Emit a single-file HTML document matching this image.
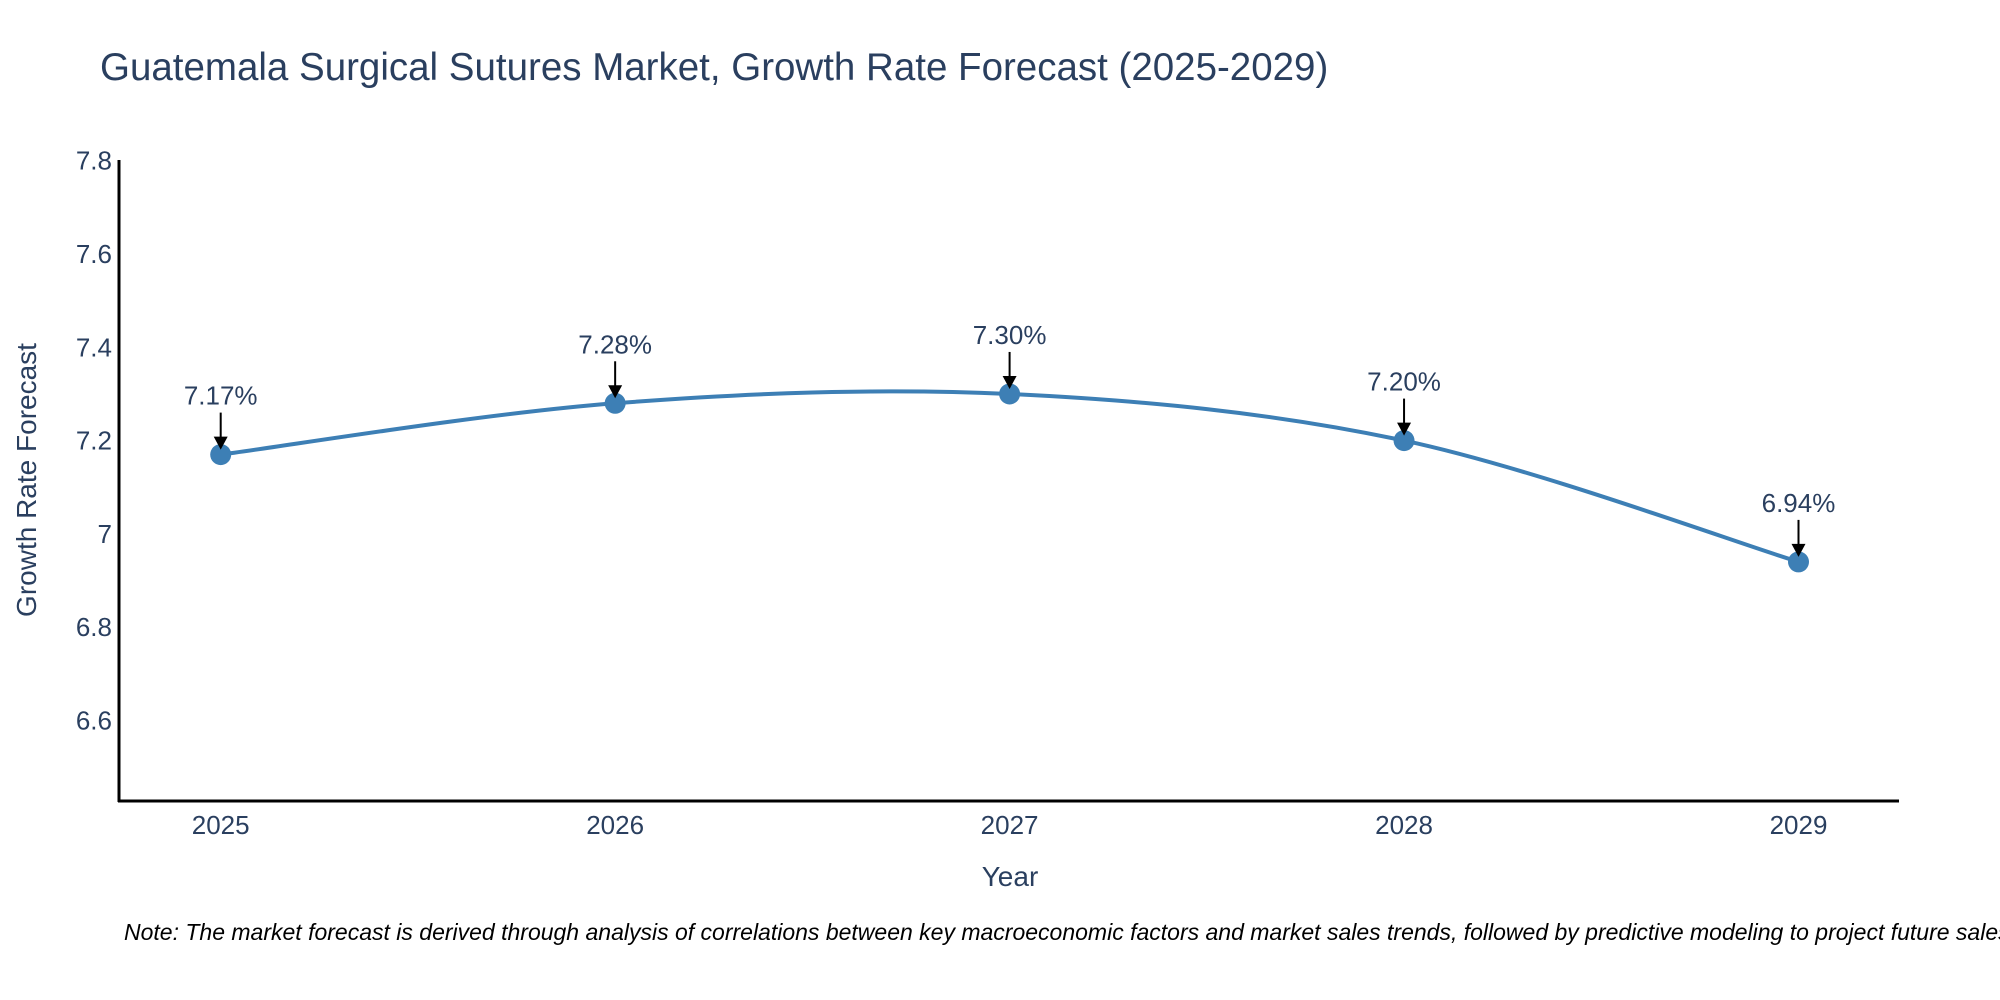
<!DOCTYPE html>
<html><head><meta charset="utf-8">
<style>
body{margin:0;background:#fff;}
svg{display:block;font-family:"Liberation Sans",sans-serif;}
</style></head>
<body>
<svg id="chart" width="2000" height="1000">
<text x="100" y="80" font-size="38.5" fill="#2a3f5f">Guatemala Surgical Sutures Market, Growth Rate Forecast (2025-2029)</text>
<g id="yticks"></g><g id="xticks"></g>
<line x1="119" y1="160" x2="119" y2="802" stroke="#000" stroke-width="3"/>
<line x1="118" y1="801" x2="1899" y2="801" stroke="#000" stroke-width="3"/>
<path id="line" fill="none" stroke="#3d7fb5" stroke-width="4"/>
<g id="marks"></g>
<text x="1010" y="886" font-size="28" fill="#2a3f5f" text-anchor="middle">Year</text>
<text transform="translate(36,480) rotate(-90)" font-size="28" fill="#2a3f5f" text-anchor="middle">Growth Rate Forecast</text>
<text x="124" y="940" font-size="23" font-style="italic" fill="#000">Note: The market forecast is derived through analysis of correlations between key macroeconomic factors and market sales trends, followed by predictive modeling to project future sales</text>
</svg>
<script>
const years=[2025,2026,2027,2028,2029];
const values=[7.17,7.28,7.30,7.20,6.94];
const labels=["7.17%","7.28%","7.30%","7.20%","6.94%"];
const yTicks=[6.6,6.8,7,7.2,7.4,7.6,7.8];
const NS="http://www.w3.org/2000/svg";
const xs=v=>220.7+(v-2025)*394.45;
const ys=v=>160.7+(7.8-v)/0.2*93.3;
function mk(t,a,p){const e=document.createElementNS(NS,t);for(const k in a)e.setAttribute(k,a[k]);p.appendChild(e);return e;}
const yt=document.getElementById('yticks');
yTicks.forEach(v=>{const t=mk('text',{x:112,y:ys(v)+9,'font-size':26,fill:'#2a3f5f','text-anchor':'end'},yt);


t.textContent=String(v);});
const xt=document.getElementById('xticks');
years.forEach(v=>{const t=mk('text',{x:xs(v),y:834,'font-size':26,fill:'#2a3f5f','text-anchor':'middle'},xt);


t.textContent=String(v);});
const P=years.map((y,i)=>[xs(y),ys(values[i])]);
let d='M'+P[0][0]+','+P[0][1];
for(let i=0;i<P.length-1;i++){const p0=P[Math.max(0,i-1)],p1=P[i],p2=P[i+1],p3=P[Math.min(P.length-1,i+2)];const k=6;
d+=` C${p1[0]+(p2[0]-p0[0])/k},${p1[1]+(p2[1]-p0[1])/k} ${p2[0]-(p3[0]-p1[0])/k},${p2[1]-(p3[1]-p1[1])/k} ${p2[0]},${p2[1]}`;}
document.getElementById('line').setAttribute('d',d);
const g=document.getElementById('marks');
P.forEach((p,i)=>{
const c=mk('circle',{cx:p[0],cy:p[1],r:10.5,fill:'#3d7fb5'},g);


const l=mk('line',{x1:p[0],y1:p[1]-42,x2:p[0],y2:p[1]-16,stroke:'#000','stroke-width':2},g);


const h=mk('polygon',{points:`${p[0]-7},${p[1]-18} ${p[0]+7},${p[1]-18} ${p[0]},${p[1]-5}`,fill:'#000'},g);


const t=mk('text',{x:p[0],y:p[1]-50,'font-size':26,fill:'#2a3f5f','text-anchor':'middle'},g);


t.textContent=labels[i];});
</script>
</body></html>
